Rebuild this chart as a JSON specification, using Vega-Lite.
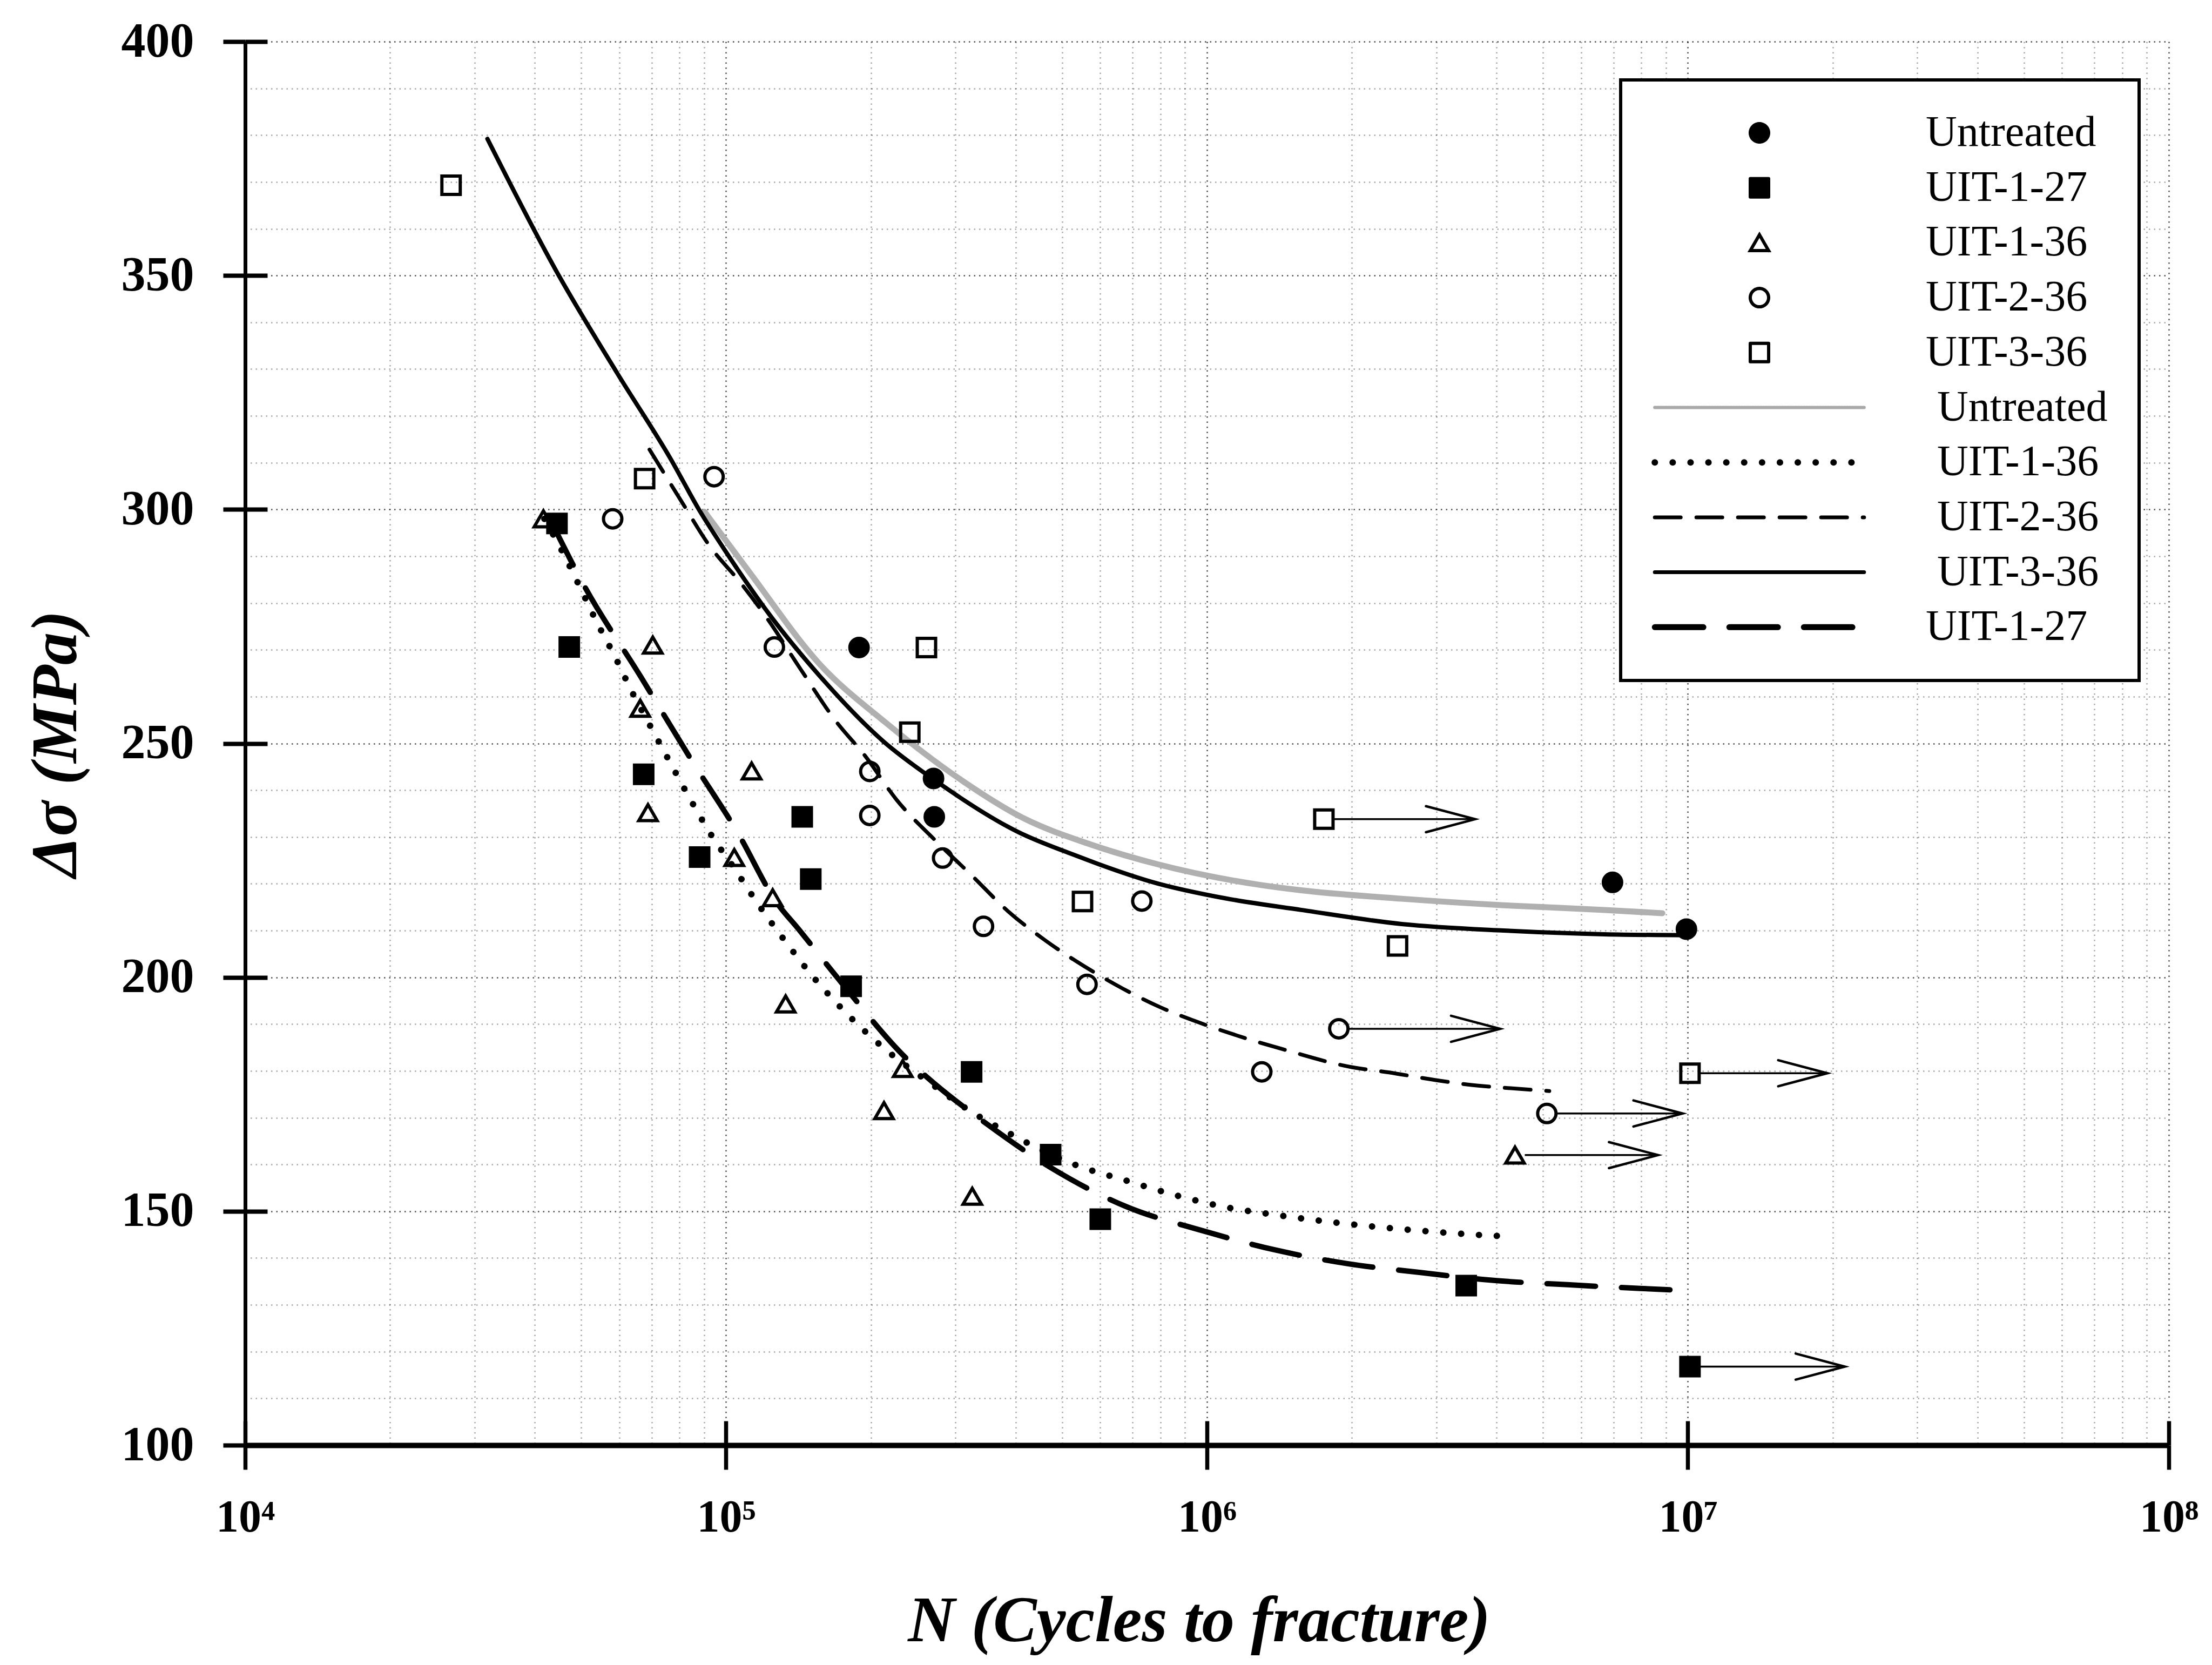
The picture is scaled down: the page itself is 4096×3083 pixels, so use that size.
{
  "$schema": "https://vega.github.io/schema/vega-lite/v6.json",
  "width": 3562,
  "height": 2599,
  "autosize": {"type": "none"},
  "padding": {"left": 454, "top": 77, "right": 80, "bottom": 407},
  "background": "white",
  "config": {"view": {"stroke": null}, "font": "Liberation Serif"},
  "resolve": {"axis": {"x": "independent", "y": "independent"}},
  "datasets": {
    "points": [
      {"series": "Untreated", "N": 189000, "S": 270.5},
      {"series": "Untreated", "N": 270000, "S": 242.5},
      {"series": "Untreated", "N": 271000, "S": 234.3},
      {"series": "Untreated", "N": 6970000, "S": 220.3},
      {"series": "Untreated", "N": 9930000, "S": 210.3},
      {"series": "UIT-1-27", "N": 44500, "S": 297},
      {"series": "UIT-1-27", "N": 47200, "S": 270.6},
      {"series": "UIT-1-27", "N": 67400, "S": 243.4},
      {"series": "UIT-1-27", "N": 88100, "S": 225.7},
      {"series": "UIT-1-27", "N": 144000, "S": 234.3},
      {"series": "UIT-1-27", "N": 150000, "S": 221},
      {"series": "UIT-1-27", "N": 182000, "S": 198.1},
      {"series": "UIT-1-27", "N": 324000, "S": 179.8},
      {"series": "UIT-1-27", "N": 473000, "S": 162.1},
      {"series": "UIT-1-27", "N": 600000, "S": 148.3},
      {"series": "UIT-1-27", "N": 3460000, "S": 134.1},
      {"series": "UIT-1-27", "N": 10100000, "S": 116.8},
      {"series": "UIT-1-36", "N": 41700, "S": 298},
      {"series": "UIT-1-36", "N": 70400, "S": 271},
      {"series": "UIT-1-36", "N": 66300, "S": 257.5},
      {"series": "UIT-1-36", "N": 68800, "S": 235.2},
      {"series": "UIT-1-36", "N": 113000, "S": 244.1},
      {"series": "UIT-1-36", "N": 104000, "S": 225.6},
      {"series": "UIT-1-36", "N": 125000, "S": 217},
      {"series": "UIT-1-36", "N": 133000, "S": 194.3},
      {"series": "UIT-1-36", "N": 233000, "S": 180.5},
      {"series": "UIT-1-36", "N": 213000, "S": 171.5},
      {"series": "UIT-1-36", "N": 325000, "S": 153.2},
      {"series": "UIT-1-36", "N": 4370000, "S": 162},
      {"series": "UIT-2-36", "N": 58100, "S": 298},
      {"series": "UIT-2-36", "N": 94400, "S": 307},
      {"series": "UIT-2-36", "N": 126000, "S": 270.6},
      {"series": "UIT-2-36", "N": 199000, "S": 244},
      {"series": "UIT-2-36", "N": 199000, "S": 234.6},
      {"series": "UIT-2-36", "N": 282000, "S": 225.5},
      {"series": "UIT-2-36", "N": 343000, "S": 210.9},
      {"series": "UIT-2-36", "N": 563000, "S": 198.5},
      {"series": "UIT-2-36", "N": 732000, "S": 216.3},
      {"series": "UIT-2-36", "N": 1300000, "S": 179.8},
      {"series": "UIT-2-36", "N": 1880000, "S": 189},
      {"series": "UIT-2-36", "N": 5090000, "S": 170.9},
      {"series": "UIT-3-36", "N": 26800, "S": 369.3},
      {"series": "UIT-3-36", "N": 67700, "S": 306.6},
      {"series": "UIT-3-36", "N": 261000, "S": 270.5},
      {"series": "UIT-3-36", "N": 241000, "S": 252.4},
      {"series": "UIT-3-36", "N": 551000, "S": 216.2},
      {"series": "UIT-3-36", "N": 1750000, "S": 233.8},
      {"series": "UIT-3-36", "N": 2490000, "S": 206.7},
      {"series": "UIT-3-36", "N": 10100000, "S": 179.5}
    ],
    "arrows": [
      {"N": 1830000, "N2": 3610000, "S": 233.8},
      {"N": 1970000, "N2": 4070000, "S": 189},
      {"N": 10600000, "N2": 19500000, "S": 179.5},
      {"N": 5330000, "N2": 9750000, "S": 170.9},
      {"N": 4580000, "N2": 8670000, "S": 162},
      {"N": 10100000, "N2": 21200000, "S": 116.8}
    ],
    "curves": [
      {"curve": "UIT-3-36", "N": 31900, "S": 379.2},
      {"curve": "UIT-3-36", "N": 44500, "S": 350.7},
      {"curve": "UIT-3-36", "N": 59400, "S": 329.1},
      {"curve": "UIT-3-36", "N": 76600, "S": 310.9},
      {"curve": "UIT-3-36", "N": 88500, "S": 299.4},
      {"curve": "UIT-3-36", "N": 99100, "S": 291.5},
      {"curve": "UIT-3-36", "N": 124000, "S": 277.1},
      {"curve": "UIT-3-36", "N": 156000, "S": 264.6},
      {"curve": "UIT-3-36", "N": 212000, "S": 250.5},
      {"curve": "UIT-3-36", "N": 271000, "S": 242.2},
      {"curve": "UIT-3-36", "N": 406000, "S": 231.0},
      {"curve": "UIT-3-36", "N": 525000, "S": 226.3},
      {"curve": "UIT-3-36", "N": 787000, "S": 220.1},
      {"curve": "UIT-3-36", "N": 1090000, "S": 216.9},
      {"curve": "UIT-3-36", "N": 1570000, "S": 214.4},
      {"curve": "UIT-3-36", "N": 2540000, "S": 211.4},
      {"curve": "UIT-3-36", "N": 4140000, "S": 210.0},
      {"curve": "UIT-3-36", "N": 6710000, "S": 209.2},
      {"curve": "UIT-3-36", "N": 9930000, "S": 209.0},
      {"curve": "Untreated", "N": 90200, "S": 299.5},
      {"curve": "Untreated", "N": 112000, "S": 286.5},
      {"curve": "Untreated", "N": 156000, "S": 267.1},
      {"curve": "Untreated", "N": 215000, "S": 254.4},
      {"curve": "Untreated", "N": 308000, "S": 242.2},
      {"curve": "Untreated", "N": 412000, "S": 234.2},
      {"curve": "Untreated", "N": 569000, "S": 228.5},
      {"curve": "Untreated", "N": 787000, "S": 224.2},
      {"curve": "Untreated", "N": 1280000, "S": 219.8},
      {"curve": "Untreated", "N": 1570000, "S": 218.6},
      {"curve": "Untreated", "N": 2540000, "S": 216.8},
      {"curve": "Untreated", "N": 4140000, "S": 215.4},
      {"curve": "Untreated", "N": 6710000, "S": 214.4},
      {"curve": "Untreated", "N": 8850000, "S": 213.7},
      {"curve": "UIT-2-36", "N": 69300, "S": 312.8},
      {"curve": "UIT-2-36", "N": 81700, "S": 300.9},
      {"curve": "UIT-2-36", "N": 91400, "S": 292.9},
      {"curve": "UIT-2-36", "N": 108000, "S": 283.9},
      {"curve": "UIT-2-36", "N": 121000, "S": 277.1},
      {"curve": "UIT-2-36", "N": 143000, "S": 265.8},
      {"curve": "UIT-2-36", "N": 169000, "S": 254.8},
      {"curve": "UIT-2-36", "N": 195000, "S": 247.2},
      {"curve": "UIT-2-36", "N": 226000, "S": 238.0},
      {"curve": "UIT-2-36", "N": 274000, "S": 229.0},
      {"curve": "UIT-2-36", "N": 324000, "S": 221.8},
      {"curve": "UIT-2-36", "N": 386000, "S": 214.1},
      {"curve": "UIT-2-36", "N": 461000, "S": 207.9},
      {"curve": "UIT-2-36", "N": 557000, "S": 202.3},
      {"curve": "UIT-2-36", "N": 668000, "S": 197.6},
      {"curve": "UIT-2-36", "N": 800000, "S": 193.6},
      {"curve": "UIT-2-36", "N": 959000, "S": 190.4},
      {"curve": "UIT-2-36", "N": 1160000, "S": 187.5},
      {"curve": "UIT-2-36", "N": 1430000, "S": 184.7},
      {"curve": "UIT-2-36", "N": 2000000, "S": 180.8},
      {"curve": "UIT-2-36", "N": 2380000, "S": 179.7},
      {"curve": "UIT-2-36", "N": 2920000, "S": 178.2},
      {"curve": "UIT-2-36", "N": 3470000, "S": 177.1},
      {"curve": "UIT-2-36", "N": 4140000, "S": 176.4},
      {"curve": "UIT-2-36", "N": 5150000, "S": 175.7},
      {"curve": "UIT-1-36", "N": 41900, "S": 298.0},
      {"curve": "UIT-1-36", "N": 45600, "S": 291.1},
      {"curve": "UIT-1-36", "N": 49400, "S": 283.9},
      {"curve": "UIT-1-36", "N": 53800, "S": 276.0},
      {"curve": "UIT-1-36", "N": 58900, "S": 268.3},
      {"curve": "UIT-1-36", "N": 63800, "S": 260.9},
      {"curve": "UIT-1-36", "N": 70000, "S": 253.2},
      {"curve": "UIT-1-36", "N": 76600, "S": 245.8},
      {"curve": "UIT-1-36", "N": 84300, "S": 238.0},
      {"curve": "UIT-1-36", "N": 93300, "S": 230.3},
      {"curve": "UIT-1-36", "N": 104000, "S": 223.3},
      {"curve": "UIT-1-36", "N": 117000, "S": 215.4},
      {"curve": "UIT-1-36", "N": 133000, "S": 207.6},
      {"curve": "UIT-1-36", "N": 152000, "S": 200.0},
      {"curve": "UIT-1-36", "N": 178000, "S": 192.3},
      {"curve": "UIT-1-36", "N": 211000, "S": 185.2},
      {"curve": "UIT-1-36", "N": 269000, "S": 177.0},
      {"curve": "UIT-1-36", "N": 321000, "S": 171.5},
      {"curve": "UIT-1-36", "N": 381000, "S": 167.1},
      {"curve": "UIT-1-36", "N": 530000, "S": 160.0},
      {"curve": "UIT-1-36", "N": 682000, "S": 156.5},
      {"curve": "UIT-1-36", "N": 877000, "S": 153.2},
      {"curve": "UIT-1-36", "N": 1130000, "S": 150.6},
      {"curve": "UIT-1-36", "N": 1330000, "S": 149.5},
      {"curve": "UIT-1-36", "N": 1710000, "S": 148.0},
      {"curve": "UIT-1-36", "N": 2180000, "S": 146.8},
      {"curve": "UIT-1-36", "N": 2810000, "S": 145.8},
      {"curve": "UIT-1-36", "N": 3600000, "S": 145.0},
      {"curve": "UIT-1-36", "N": 4280000, "S": 144.6},
      {"curve": "UIT-1-27", "N": 43300, "S": 297.4},
      {"curve": "UIT-1-27", "N": 50500, "S": 284.0},
      {"curve": "UIT-1-27", "N": 66500, "S": 264.2},
      {"curve": "UIT-1-27", "N": 84300, "S": 246.8},
      {"curve": "UIT-1-27", "N": 106000, "S": 230.7},
      {"curve": "UIT-1-27", "N": 127000, "S": 216.2},
      {"curve": "UIT-1-27", "N": 142000, "S": 210.1},
      {"curve": "UIT-1-27", "N": 173000, "S": 199.1},
      {"curve": "UIT-1-27", "N": 238000, "S": 182.5},
      {"curve": "UIT-1-27", "N": 262000, "S": 178.6},
      {"curve": "UIT-1-27", "N": 348000, "S": 168.7},
      {"curve": "UIT-1-27", "N": 481000, "S": 158.9},
      {"curve": "UIT-1-27", "N": 679000, "S": 151.0},
      {"curve": "UIT-1-27", "N": 975000, "S": 145.9},
      {"curve": "UIT-1-27", "N": 1390000, "S": 141.7},
      {"curve": "UIT-1-27", "N": 1960000, "S": 138.8},
      {"curve": "UIT-1-27", "N": 2780000, "S": 136.9},
      {"curve": "UIT-1-27", "N": 3970000, "S": 135.2},
      {"curve": "UIT-1-27", "N": 5620000, "S": 134.3},
      {"curve": "UIT-1-27", "N": 7960000, "S": 133.5},
      {"curve": "UIT-1-27", "N": 10300000, "S": 133.0}
    ]
  },
  "layer": [
    {
      "data": {"name": "curves"},
      "transform": [{"filter": "datum.curve === 'Untreated'"}],
      "mark": {"type": "line", "interpolate": "monotone", "stroke": "#b0b0b0", "strokeWidth": 11, "strokeCap": "round"},
      "encoding": {
        "x": {"field": "N", "type": "quantitative", "scale": {"type": "log", "domain": [10000, 100000000], "nice": false},
          "axis": {"orient": "bottom", "title": null, "domain": false, "ticks": false, "labels": false, "grid": true,
            "values": [10000, 20000, 30000, 40000, 50000, 60000, 70000, 80000, 90000, 100000, 200000, 300000, 400000, 500000, 600000, 700000, 800000, 900000, 1000000, 2000000, 3000000, 4000000, 5000000, 6000000, 7000000, 8000000, 9000000, 10000000, 20000000, 30000000, 40000000, 50000000, 60000000, 70000000, 80000000, 90000000, 100000000],
            "gridColor": "black", "gridWidth": 2.5, "gridDash": [2.5, 7],
            "gridOpacity": {"condition": {"test": "indexof([10000,100000,1000000,10000000,100000000], datum.value) >= 0", "value": 0.7}, "value": 0.35}}},
        "y": {"field": "S", "type": "quantitative", "scale": {"domain": [100, 400], "nice": false, "zero": false},
          "axis": {"orient": "left", "title": null, "domain": false, "ticks": false, "labels": false, "grid": true,
            "values": [100, 110, 120, 130, 140, 150, 160, 170, 180, 190, 200, 210, 220, 230, 240, 250, 260, 270, 280, 290, 300, 310, 320, 330, 340, 350, 360, 370, 380, 390, 400],
            "gridColor": "black", "gridWidth": 2.5, "gridDash": [2.5, 7],
            "gridOpacity": {"condition": {"test": "datum.value % 50 === 0", "value": 0.7}, "value": 0.35}}}
      }
    },
    {
      "data": {"name": "curves"},
      "transform": [{"filter": "datum.curve === 'UIT-3-36'"}],
      "mark": {"type": "line", "interpolate": "monotone", "stroke": "black", "strokeWidth": 8, "strokeCap": "round"},
      "encoding": {
        "x": {"field": "N", "type": "quantitative", "scale": {"type": "log", "domain": [10000, 100000000], "nice": false},
          "axis": {"orient": "bottom", "offset": -45, "title": null, "domain": false, "labels": false, "grid": false,
            "values": [10000, 100000, 1000000, 10000000, 100000000], "tickSize": 45, "tickWidth": 7.5, "tickColor": "black"}},
        "y": {"field": "S", "type": "quantitative", "scale": {"domain": [100, 400], "nice": false, "zero": false},
          "axis": {"orient": "left", "offset": -41, "title": null, "domain": false, "labels": false, "grid": false,
            "values": [100, 150, 200, 250, 300, 350, 400], "tickSize": 41, "tickWidth": 8, "tickColor": "black"}}
      }
    },
    {
      "data": {"name": "curves"},
      "transform": [{"filter": "datum.curve === 'UIT-2-36'"}],
      "mark": {"type": "line", "interpolate": "monotone", "stroke": "black", "strokeWidth": 7, "strokeDash": [48, 29], "strokeCap": "round"},
      "encoding": {
        "x": {"field": "N", "type": "quantitative", "axis": null},
        "y": {"field": "S", "type": "quantitative", "axis": null}
      }
    },
    {
      "data": {"name": "curves"},
      "transform": [{"filter": "datum.curve === 'UIT-1-36'"}],
      "mark": {"type": "line", "interpolate": "monotone", "stroke": "black", "strokeWidth": 12, "strokeDash": [0.1, 33], "strokeCap": "round"},
      "encoding": {
        "x": {"field": "N", "type": "quantitative", "axis": null},
        "y": {"field": "S", "type": "quantitative", "axis": null}
      }
    },
    {
      "data": {"name": "curves"},
      "transform": [{"filter": "datum.curve === 'UIT-1-27'"}],
      "mark": {"type": "line", "interpolate": "monotone", "stroke": "black", "strokeWidth": 10, "strokeDash": [90, 48], "strokeCap": "round"},
      "encoding": {
        "x": {"field": "N", "type": "quantitative", "axis": null},
        "y": {"field": "S", "type": "quantitative", "axis": null}
      }
    },
    {
      "data": {"name": "arrows"},
      "mark": {"type": "rule", "stroke": "black", "strokeWidth": 3.5},
      "encoding": {
        "x": {"field": "N", "type": "quantitative", "axis": null},
        "x2": {"field": "N2"},
        "y": {"field": "S", "type": "quantitative", "axis": null}
      }
    },
    {
      "data": {"name": "arrows"},
      "mark": {"type": "point", "shape": "M-2,-0.53L0,0L-2,0.53", "size": 8281, "filled": false, "stroke": "black", "strokeWidth": 4.5, "strokeCap": "round", "opacity": 1},
      "encoding": {
        "x": {"field": "N2", "type": "quantitative", "axis": null},
        "y": {"field": "S", "type": "quantitative", "axis": null}
      }
    },
    {
      "data": {"name": "points"},
      "mark": {"type": "point", "filled": false, "stroke": "black", "strokeWidth": 6, "size": 1156, "opacity": 1},
      "encoding": {
        "x": {"field": "N", "type": "quantitative",
          "axis": {"orient": "bottom", "values": [10000, 100000, 1000000, 10000000, 100000000], "grid": false,
            "domain": true, "domainColor": "black", "domainWidth": 10,
            "ticks": true, "tickSize": 45, "tickWidth": 7.5, "tickColor": "black",
            "labelExpr": "'10' + ['⁰','¹','²','³','⁴','⁵','⁶','⁷','⁸','⁹'][round(log(datum.value) / LN10)]",
            "labelFont": "Liberation Serif", "labelFontWeight": "bold", "labelFontSize": 84, "labelColor": "black",
            "labelPadding": 48, "labelBaseline": "top", "labelAlign": "center", "labelFlush": false, "labelOverlap": false, "labelBound": false,
            "title": "N (Cycles to fracture)", "titleFont": "Liberation Serif", "titleFontWeight": "bold", "titleFontStyle": "italic",
            "titleFontSize": 121, "titleColor": "black", "titleX": 1766, "titleY": 362, "titleBaseline": "alphabetic", "titleAlign": "center", "titleAnchor": null}},
        "y": {"field": "S", "type": "quantitative",
          "axis": {"orient": "left", "values": [100, 150, 200, 250, 300, 350, 400], "grid": false,
            "domain": true, "domainColor": "black", "domainWidth": 7,
            "ticks": true, "tickSize": 41, "tickWidth": 8, "tickColor": "black",
            "labelFont": "Liberation Serif", "labelFontWeight": "bold", "labelFontSize": 90, "labelColor": "black",
            "labelPadding": 54, "labelFlush": false, "labelOverlap": false, "labelBound": false,
            "title": "Δσ (MPa)", "titleFont": "Liberation Serif", "titleFontWeight": "bold", "titleFontStyle": "italic",
            "titleFontSize": 121, "titleColor": "black", "titleX": -350, "titleY": 1300, "titleAngle": 270, "titleBaseline": "middle", "titleAlign": "center", "titleAnchor": null}},
        "shape": {"field": "series", "type": "nominal",
          "scale": {"domain": ["Untreated", "UIT-1-27", "UIT-1-36", "UIT-2-36", "UIT-3-36", "Untreated fit", "UIT-1-36 fit", "UIT-2-36 fit", "UIT-3-36 fit", "UIT-1-27 fit"],
            "range": ["circle", "square", "triangle-up", "circle", "square", "M-11.4,0H11.4", "M-11.4,0H11.4", "M-11.4,0H11.4", "M-11.4,0H11.4", "M-11.4,0H11.4"]},
          "legend": {
            "title": null, "orient": "none", "legendX": 2547, "legendY": 71, "direction": "vertical",
            "padding": 58, "strokeColor": "black", "fillColor": "white",
            "symbolSize": 1156, "symbolOffset": 159, "labelOffset": 268, "rowPadding": 21.7,
            "labelFont": "Liberation Serif", "labelFontSize": 80, "labelColor": "black", "labelLimit": 0,
            "labelExpr": "replace(datum.label, ' fit', '')",
            "encoding": {
              "legend": {"strokeWidth": {"value": 6}},
              "labels": {
                "dx": {"value": {"signal": "datum.value === 'Untreated fit' || datum.value === 'UIT-1-36 fit' || datum.value === 'UIT-2-36 fit' || datum.value === 'UIT-3-36 fit' ? 21 : 0"}}
              },
              "symbols": {
                "fill": {"value": {"signal": "datum.value === 'Untreated' || datum.value === 'UIT-1-27' ? 'black' : 'transparent'"}},
                "stroke": {"value": {"signal": "datum.value === 'Untreated fit' ? '#a8a8a8' : 'black'"}},
                "strokeWidth": {"value": {"signal": "datum.value === 'UIT-1-27 fit' ? 11 : datum.value === 'UIT-1-36 fit' ? 12 : datum.value === 'UIT-3-36 fit' ? 7 : datum.value === 'UIT-2-36 fit' ? 7 : datum.value === 'Untreated fit' ? 6 : 6"}},
                "strokeDash": {"value": {"signal": "datum.value === 'UIT-2-36 fit' ? [48, 29] : datum.value === 'UIT-1-36 fit' ? [0.1, 33] : datum.value === 'UIT-1-27 fit' ? [90, 48] : datum.value === 'Untreated fit' ? [3, 2] : [1, 0]"}},
                "strokeCap": {"value": "round"}
              }
            }
          }},
        "fill": {"field": "series", "type": "nominal",
          "scale": {"domain": ["Untreated", "UIT-1-27", "UIT-1-36", "UIT-2-36", "UIT-3-36"], "range": ["black", "black", "transparent", "transparent", "transparent"]},
          "legend": null}
      }
    }
  ]
}
